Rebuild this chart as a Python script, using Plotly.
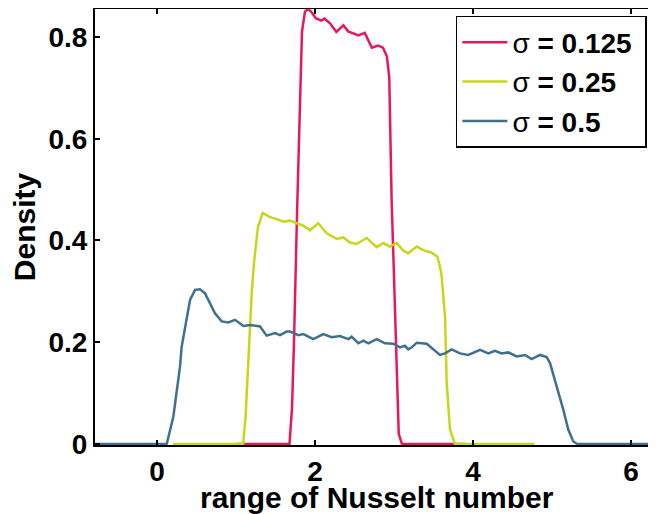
import plotly.graph_objects as go

red_x = [1.0, 1.60, 1.677, 1.709, 1.734, 1.772, 1.81, 1.835, 1.873, 1.911, 1.95, 2.01, 2.08, 2.12, 2.19, 2.27, 2.36, 2.42, 2.55, 2.63, 2.72, 2.80, 2.86, 2.91, 2.94, 2.97, 3.0, 3.03, 3.06, 3.10, 3.9]
red_y = [0, 0, 0, 0.07, 0.2, 0.45, 0.7, 0.81, 0.85, 0.855, 0.85, 0.837, 0.832, 0.836, 0.827, 0.81, 0.823, 0.811, 0.803, 0.808, 0.779, 0.783, 0.779, 0.762, 0.72, 0.48, 0.33, 0.185, 0.02, 0, 0]

yel_x = [0.2, 1.09, 1.12, 1.16, 1.20, 1.23, 1.278, 1.338, 1.43, 1.515, 1.60, 1.684, 1.768, 1.852, 1.937, 2.04, 2.148, 2.275, 2.358, 2.443, 2.528, 2.654, 2.78, 2.865, 2.949, 3.034, 3.118, 3.18, 3.287, 3.37, 3.477, 3.548, 3.582, 3.604, 3.646, 3.667, 3.709, 3.772, 4.78]
yel_y = [0, 0, 0.05, 0.17, 0.3, 0.36, 0.427, 0.454, 0.446, 0.442, 0.437, 0.439, 0.434, 0.429, 0.42, 0.434, 0.414, 0.403, 0.406, 0.396, 0.393, 0.405, 0.387, 0.395, 0.388, 0.395, 0.38, 0.375, 0.388, 0.381, 0.376, 0.368, 0.349, 0.329, 0.25, 0.12, 0.028, 0, 0]

blue_x = [-0.8, 0.10, 0.123, 0.207, 0.291, 0.312, 0.376, 0.418, 0.481, 0.544, 0.608, 0.671, 0.734, 0.819, 0.903, 0.987, 1.093, 1.177, 1.304, 1.388, 1.494, 1.557, 1.641, 1.684, 1.789, 1.852, 1.979, 2.105, 2.211, 2.316, 2.422, 2.464, 2.548, 2.612, 2.675, 2.78, 2.886, 2.991, 3.076, 3.139, 3.181, 3.224, 3.287, 3.414, 3.498, 3.582, 3.646, 3.73, 3.835, 3.941, 4.089, 4.194, 4.278, 4.363, 4.447, 4.553, 4.658, 4.743, 4.848, 4.932, 4.975, 5.04, 5.10, 5.144, 5.207, 5.27, 5.32, 6.4]
blue_y = [0, 0, 0, 0.054, 0.152, 0.191, 0.244, 0.283, 0.303, 0.304, 0.296, 0.277, 0.257, 0.241, 0.239, 0.244, 0.232, 0.234, 0.231, 0.213, 0.218, 0.214, 0.221, 0.221, 0.214, 0.216, 0.206, 0.216, 0.21, 0.212, 0.206, 0.211, 0.198, 0.203, 0.198, 0.206, 0.198, 0.197, 0.19, 0.193, 0.186, 0.19, 0.199, 0.197, 0.185, 0.175, 0.178, 0.186, 0.178, 0.175, 0.185, 0.178, 0.183, 0.178, 0.18, 0.172, 0.175, 0.167, 0.175, 0.171, 0.159, 0.125, 0.09, 0.067, 0.028, 0.005, 0, 0]

names = ["σ<b> = 0.125</b>\u00a0", "σ<b> = 0.25</b>\u00a0", "σ<b> = 0.5</b>\u00a0"]
colors = ["#E8175D", "#C8D61A", "#40708F"]
x_title = "range of Nusselt number"
y_title = "Density"

fig = go.Figure()
for xs, ys, nm, c in zip([red_x, yel_x, blue_x], [red_y, yel_y, blue_y], names, colors):
    fig.add_trace(go.Scatter(x=xs, y=ys, mode="lines", name=nm,
                             line=dict(color=c, width=2.5)))

font_family = "Liberation Sans, Arial, sans-serif"
# the page body adds an 8px offset; margins compensate for it
fig.update_layout(
    width=656, height=514,
    margin=dict(l=87, r=6, t=1, b=77),
    plot_bgcolor="white", paper_bgcolor="white",
    font=dict(family=font_family, color="black"),
    showlegend=True,
    legend=dict(x=0.641, y=0.984, xanchor="left", yanchor="top",
                bgcolor="white", bordercolor="black", borderwidth=1.5,
                font=dict(size=28, family=font_family, color="black"),
                itemwidth=45, tracegroupgap=0),
    xaxis=dict(range=[-0.785, 6.342], tickmode="array", tickvals=[0, 2, 4, 6],
               ticks="inside", ticklen=5, tickwidth=1.5, tickcolor="black",
               showline=True, linecolor="black", linewidth=2, mirror="ticks",
               showgrid=False, zeroline=False, automargin=False,
               tickfont=dict(size=28, weight="bold")),
    yaxis=dict(range=[-0.002, 0.855], tickmode="array", tickvals=[0, 0.2, 0.4, 0.6, 0.8],
               ticktext=["0", "0.2", "0.4", "0.6", "0.8"],
               ticks="inside", ticklen=5, tickwidth=1.5, tickcolor="black",
               showline=True, linecolor="black", linewidth=2, mirror="ticks",
               showgrid=False, zeroline=False, automargin=False,
               tickfont=dict(size=28, weight="bold"),
               title=dict(text=y_title, standoff=4,
                          font=dict(size=30, weight="bold"))),
    annotations=[dict(text=x_title, xref="paper", yref="paper", x=0.5, y=0,
                      xanchor="center", yanchor="top", yshift=-34, showarrow=False,
                      font=dict(size=30, weight="bold", family=font_family, color="black"))],
)

fig.write_html("out.html")
